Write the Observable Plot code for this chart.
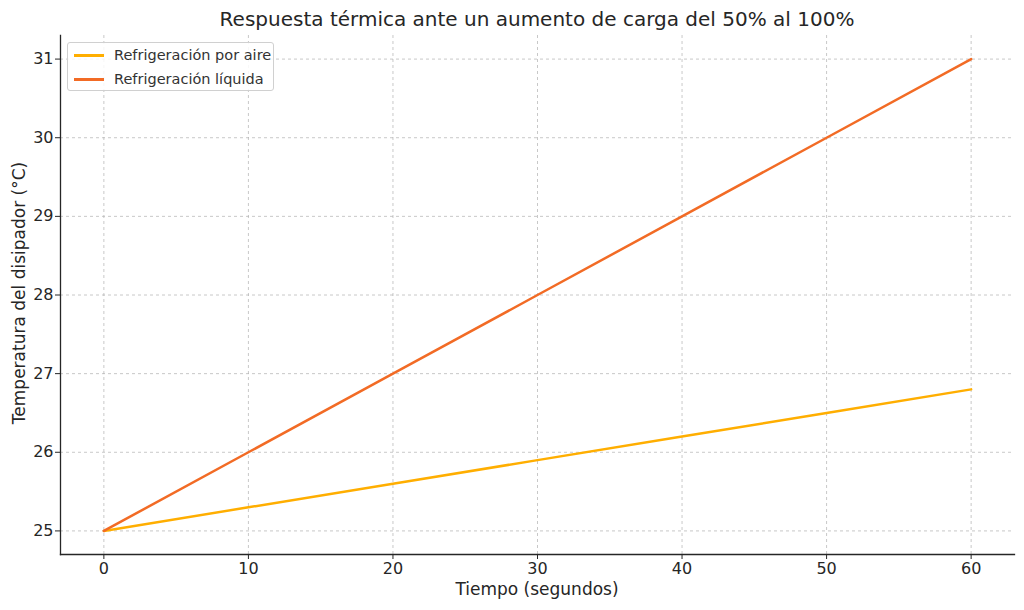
<!DOCTYPE html>
<html>
<head>
<meta charset="utf-8">
<script src="https://cdn.jsdelivr.net/npm/d3@7"></script>
<script src="https://cdn.jsdelivr.net/npm/@observablehq/plot@0.6"></script>
<style>
  body { margin: 0; background: #fff; font-family: "DejaVu Sans", sans-serif; }
  #wrap { position: relative; width: 1024px; height: 610px; }
  #title { position: absolute; left: 60px; width: 954px; top: 7px; text-align: center; font-size: 20px; color: #262626; line-height: 24px; }
  #xlabel { position: absolute; left: 60px; width: 954px; top: 578px; text-align: center; font-size: 17px; color: #262626; line-height: 22px; }
  #ylabel { position: absolute; left: 19px; top: 293px; transform: translate(-50%, -50%) rotate(-90deg); white-space: nowrap; font-size: 17px; color: #262626; line-height: 22px; }
  #legend { position: absolute; left: 67px; top: 42px; width: 207px; height: 49px; border: 1px solid #d0d0d0; border-radius: 3px; background: rgba(255,255,255,0.85); font-size: 14.5px; color: #333; box-sizing: border-box; }
  .item { position: absolute; left: 6px; display: flex; align-items: center; line-height: 18px; }
  .sw { width: 30px; height: 3px; margin-right: 10px; }
</style>
</head>
<body>
<div id="wrap">
  <div id="chart"></div>
  <div id="title"></div>
  <div id="xlabel"></div>
  <div id="ylabel"></div>
  <div id="legend"></div>
</div>
<script>
const title = "Respuesta térmica ante un aumento de carga del 50% al 100%";
const xLabel = "Tiempo (segundos)";
const yLabel = "Temperatura del disipador (°C)";
const time = [0, 10, 20, 30, 40, 50, 60];
const seriesNames = ["Refrigeración por aire", "Refrigeración líquida"];
const airTemp = [25.0, 25.3, 25.6, 25.9, 26.2, 26.5, 26.8];
const liquidTemp = [25, 26, 27, 28, 29, 30, 31];
const colors = ["#ffae00", "#f26b25"];
const xTicks = [0, 10, 20, 30, 40, 50, 60];
const yTicks = [25, 26, 27, 28, 29, 30, 31];

const rows = [];
time.forEach((t, i) => rows.push({t, v: airTemp[i], s: seriesNames[0]}));
time.forEach((t, i) => rows.push({t, v: liquidTemp[i], s: seriesNames[1]}));

const chart = Plot.plot({
  width: 1024,
  height: 610,
  marginLeft: 60,
  marginRight: 10,
  marginTop: 35,
  marginBottom: 56,
  style: {fontFamily: "DejaVu Sans, sans-serif", fontSize: "16px", color: "#262626", background: "#fff"},
  x: {domain: [-3, 63], label: null},
  y: {domain: [24.7, 31.3], label: null},
  color: {domain: seriesNames, range: colors},
  marks: [
    Plot.gridX(xTicks, {stroke: "#b0b0b0", strokeOpacity: 0.7, strokeDasharray: "3,3"}),
    Plot.gridY(yTicks, {stroke: "#b0b0b0", strokeOpacity: 0.7, strokeDasharray: "3,3"}),
    Plot.frame({anchor: "left", stroke: "#262626", strokeWidth: 1.3}),
    Plot.frame({anchor: "bottom", stroke: "#262626", strokeWidth: 1.3}),
    Plot.axisX(xTicks, {tickSize: 5, tickPadding: 3, tickFormat: "d", label: null, stroke: "#262626", fontSize: 16}),
    Plot.axisY(yTicks, {tickSize: 5, tickPadding: 2, tickFormat: "d", label: null, stroke: "#262626", fontSize: 16}),
    Plot.line(rows, {x: "t", y: "v", z: "s", stroke: "s", strokeWidth: 2.5})
  ]
});
document.getElementById("chart").appendChild(chart);
document.getElementById("title").textContent = title;
document.getElementById("xlabel").textContent = xLabel;
document.getElementById("ylabel").textContent = yLabel;
const leg = document.getElementById("legend");
seriesNames.forEach((n, i) => {
  const it = document.createElement("div");
  it.className = "item";
  it.style.top = (3 + i * 24) + "px";
  const sw = document.createElement("div");
  sw.className = "sw";
  sw.style.background = colors[i];
  const tx = document.createElement("span");
  tx.textContent = n;
  it.appendChild(sw);
  it.appendChild(tx);
  leg.appendChild(it);
});
</script>
</body>
</html>
